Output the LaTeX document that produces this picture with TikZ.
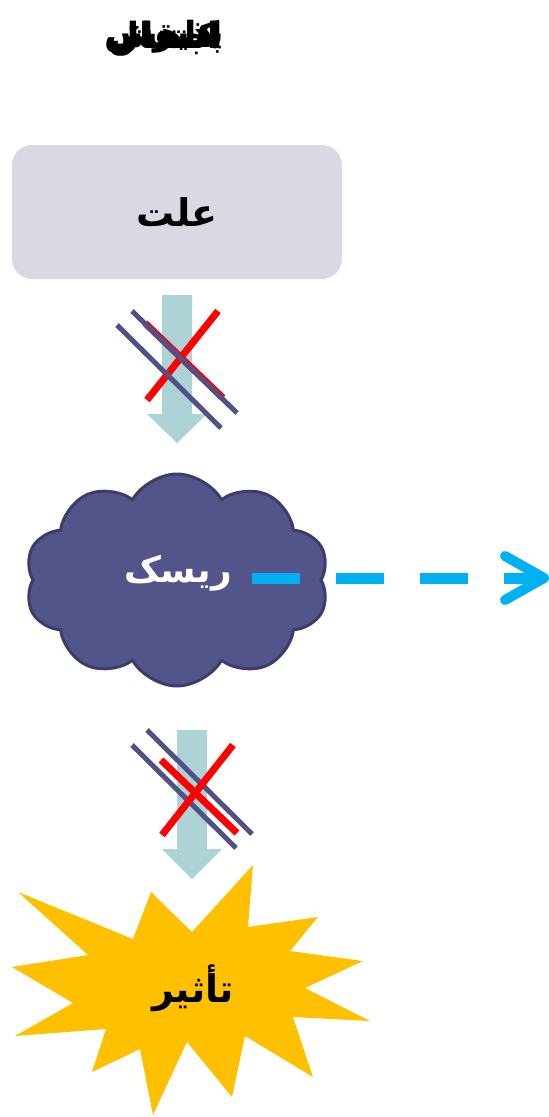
\documentclass[tikz,border=0pt]{standalone}
\usepackage{fontspec}
\usepackage{tikz}
\usetikzlibrary{arrows.meta,calc,positioning,shapes.symbols}
\usepackage{xcolor}
\newfontfamily\arabicfont[Script=Arabic]{DejaVu Sans}
\TeXXeTstate=1
\definecolor{boxgray}{HTML}{D9D9E3}
\definecolor{shaftblue}{HTML}{AED3D7}
\definecolor{crossblue}{HTML}{4F5187}
\definecolor{cloudfill}{HTML}{53548A}
\definecolor{cloudline}{HTML}{3C3D68}
\definecolor{dashcyan}{HTML}{00B0F0}
\definecolor{staryellow}{HTML}{FFC000}

\begin{document}
\begin{tikzpicture}[x=1pt, y=-1pt, every node/.style={font=\arabicfont\bfseries},
  redbar/.style={red, line width=7pt},
  bluebar/.style={crossblue, line width=5pt}]
  \useasboundingbox (0,0) rectangle (549,1117);
  % top: overlaid responses
  \foreach \w [count=\i] in {اجتناب,انتقال,کاهش,پذیرش}
    \node[font=\arabicfont\bfseries\fontsize{36}{42}\selectfont] (resp\i) at (164,38) {\beginR\w\endR};
  % cause box
  \node[fill=boxgray, rounded corners=20pt, minimum width=330, minimum height=134,
        font=\arabicfont\bfseries\fontsize{38}{44}\selectfont] (cause) at (177,212) {\beginR علت\endR};
  % first blocked arrow
  \fill[shaftblue] (162,295) -- (192,295) -- (192,414) -- (207,414) -- (177,443)
    -- (147,414) -- (162,414) -- cycle;
  \draw[redbar] (145,323) -- (223,398);
  \draw[redbar] (147,400) -- (218,311);
  \draw[bluebar] (117,325) -- (221,428);
  \draw[bluebar] (132,311) -- (237,413);
  % risk cloud
  \node[cloud, cloud ignores aspect, cloud puffs=10, cloud puff arc=120, draw=cloudline,
        fill=cloudfill, line width=3pt, minimum width=304, minimum height=212] (risk) at (177,580) {};
  \node[white, font=\arabicfont\bfseries\fontsize{36}{42}\selectfont] (risklbl) at (178,573) {\beginR ریسک\endR};
  % dashed way out
  \coordinate (dashstart) at (252,578);
  \coordinate (dashend) at (538,578);
  \draw[dashcyan, line width=11pt, dash pattern=on 48pt off 36pt] (dashstart) -- (dashend);
  \draw[dashcyan, line width=10pt, line cap=round, line join=round]
    ($(dashend)+(-33,-22)$) -- ($(dashend)+(6,0)$) -- ($(dashend)+(-33,22)$);
  % second blocked arrow
  \fill[shaftblue] (177,730) -- (207,730) -- (207,849) -- (222,849) -- (192,879)
    -- (162,849) -- (177,849) -- cycle;
  \draw[bluebar] (132,745) -- (236,848);
  \draw[bluebar] (147,730) -- (252,834);
  \draw[redbar] (161,760) -- (237,833);
  \draw[redbar] (162,835) -- (233,745);
  % impact star
  \fill[staryellow] (253,865) -- (248,927) -- (318,917) -- (290,951) -- (363,961)
    -- (305,988) -- (370,1021) -- (293,1017) -- (313,1077) -- (245,1036)
    -- (232,1097) -- (187,1042) -- (153,1115) -- (140,1049) -- (92,1072)
    -- (106,1029) -- (15,1036) -- (73,1003) -- (12,967) -- (88,955)
    -- (18,892) -- (133,939) -- (151,892) -- (192,932) -- cycle;
  \node[font=\arabicfont\bfseries\fontsize{38}{44}\selectfont] (impact) at (193,988) {\beginR تأثیر\endR};
\end{tikzpicture}
\end{document}
